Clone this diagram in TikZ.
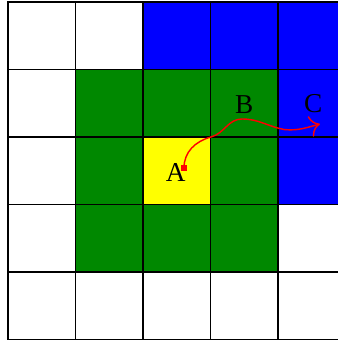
\documentclass[tikz,border=0pt]{standalone}
\usepackage{fontspec}
\setmainfont{Liberation Serif}
\usetikzlibrary{arrows.meta}
\definecolor{cellgreen}{RGB}{0,136,0}
\definecolor{cellblue}{RGB}{0,0,255}
\definecolor{cellyellow}{RGB}{255,255,0}

\begin{document}
\begin{tikzpicture}[
    x=1cm, y=1cm,
    cell/.style={draw=black, line width=0.6pt},
    letter/.style={font=\fontsize{11.5}{13}\selectfont, text=black, inner sep=0pt},
    marker/.style={fill=red, minimum size=0.8mm, inner sep=0pt},
    walk/.style={draw=red, line width=0.6pt, -{To[length=1.5mm]}}
]
    \useasboundingbox (-0.119,-0.052) rectangle (4.889,5.03);

    % grid, rows from the top
    \foreach \row [count=\r from 0] in {
        {white,white,cellblue,cellblue,cellblue},
        {white,cellgreen,cellgreen,cellgreen,cellblue},
        {white,cellgreen,cellyellow,cellgreen,cellblue},
        {white,cellgreen,cellgreen,cellgreen,white},
        {white,white,white,white,white}}
        \foreach \c [count=\k from 0] in \row
            \draw[cell, fill=\c] (\k,4-\r) rectangle ++(1,1);

    \node[letter] (A) at (2.486,2.474) {A};
    \node[letter] (B) at (3.499,3.486) {B};
    \node[letter] (C) at (4.523,3.499) {C};

    \node[marker] (start) at (2.607,2.541) {};
    \coordinate (edge) at (3.007,3.0);
    \coordinate (peak) at (3.467,3.267);
    \coordinate (dip) at (4.1,3.11);
    \coordinate (goal) at (4.622,3.193);

    \draw[walk] (start.center) to[out=90,in=195] (edge)
        to[out=15,in=180] (peak)
        to[out=0,in=170] (dip)
        to[out=-5,in=195] (goal);
\end{tikzpicture}
\end{document}
